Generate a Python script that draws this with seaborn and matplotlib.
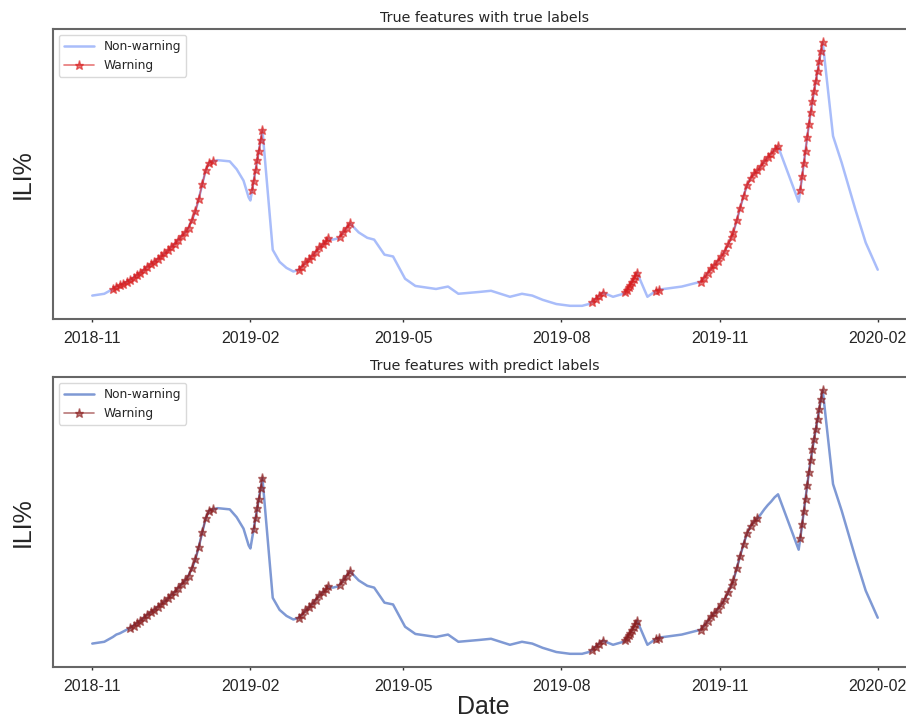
import numpy as np
import pandas as pd
import seaborn as sns
import matplotlib.pyplot as plt
import matplotlib.dates as mdates

# ILI% series (same true features in both panels)
dates = [
    "2018-11-01", "2018-11-08", "2018-11-13", "2018-11-15", "2018-11-17", "2018-11-19",
    "2018-11-21", "2018-11-23", "2018-11-25", "2018-11-27", "2018-11-29", "2018-12-01",
    "2018-12-03", "2018-12-05", "2018-12-07", "2018-12-09", "2018-12-11", "2018-12-13",
    "2018-12-15", "2018-12-17", "2018-12-19", "2018-12-21", "2018-12-23", "2018-12-25",
    "2018-12-27", "2018-12-29", "2018-12-31", "2019-01-02", "2019-01-04", "2019-01-06",
    "2019-01-08", "2019-01-10", "2019-01-13", "2019-01-20", "2019-01-24", "2019-01-28",
    "2019-01-31", "2019-02-01", "2019-02-02", "2019-02-03", "2019-02-04", "2019-02-05",
    "2019-02-06", "2019-02-07", "2019-02-08", "2019-02-14", "2019-02-18", "2019-02-22",
    "2019-02-26", "2019-03-01", "2019-03-03", "2019-03-05", "2019-03-07", "2019-03-09",
    "2019-03-11", "2019-03-13", "2019-03-15", "2019-03-17", "2019-03-18", "2019-03-21",
    "2019-03-24", "2019-03-25", "2019-03-27", "2019-03-29", "2019-03-31", "2019-04-05",
    "2019-04-10", "2019-04-14", "2019-04-20", "2019-04-25", "2019-05-02", "2019-05-08",
    "2019-05-20", "2019-05-27", "2019-06-02", "2019-06-14", "2019-06-21", "2019-07-02",
    "2019-07-09", "2019-07-15", "2019-07-21", "2019-07-29", "2019-08-06", "2019-08-13",
    "2019-08-17", "2019-08-19", "2019-08-21", "2019-08-23", "2019-08-25", "2019-08-31",
    "2019-09-06", "2019-09-07", "2019-09-08", "2019-09-09", "2019-09-10", "2019-09-11",
    "2019-09-12", "2019-09-13", "2019-09-14", "2019-09-20", "2019-09-25", "2019-09-27",
    "2019-10-05", "2019-10-10", "2019-10-17", "2019-10-21", "2019-10-23", "2019-10-25",
    "2019-10-27", "2019-10-29", "2019-10-31", "2019-11-02", "2019-11-04", "2019-11-06",
    "2019-11-08", "2019-11-09", "2019-11-11", "2019-11-13", "2019-11-15", "2019-11-17",
    "2019-11-19", "2019-11-21", "2019-11-23", "2019-11-25", "2019-11-27", "2019-11-29",
    "2019-12-01", "2019-12-03", "2019-12-05", "2019-12-17", "2019-12-18", "2019-12-19",
    "2019-12-20", "2019-12-21", "2019-12-22", "2019-12-23", "2019-12-24", "2019-12-25",
    "2019-12-26", "2019-12-27", "2019-12-28", "2019-12-29", "2019-12-30", "2019-12-31",
    "2020-01-06", "2020-01-11", "2020-01-19", "2020-01-25", "2020-02-01",
]
ili = [
    2.17, 2.20, 2.28, 2.32, 2.34, 2.37,
    2.40, 2.43, 2.47, 2.51, 2.55, 2.60,
    2.65, 2.69, 2.73, 2.78, 2.82, 2.87,
    2.92, 2.98, 3.03, 3.10, 3.16, 3.22,
    3.30, 3.42, 3.57, 3.78, 4.02, 4.25,
    4.38, 4.40, 4.42, 4.40, 4.27, 4.08,
    3.80, 3.75, 3.92, 4.08, 4.25, 4.42,
    4.58, 4.75, 4.92, 2.93, 2.73, 2.63,
    2.57, 2.60, 2.65, 2.72, 2.77, 2.83,
    2.90, 2.97, 3.02, 3.07, 3.12, 3.10,
    3.12, 3.15, 3.22, 3.30, 3.37, 3.22,
    3.13, 3.10, 2.85, 2.82, 2.45, 2.33,
    2.28, 2.32, 2.20, 2.23, 2.25, 2.15,
    2.20, 2.17, 2.10, 2.03, 2.00, 2.00,
    2.03, 2.07, 2.12, 2.17, 2.22, 2.15,
    2.20, 2.23, 2.27, 2.32, 2.35, 2.40,
    2.45, 2.50, 2.55, 2.15, 2.25, 2.27,
    2.30, 2.32, 2.37, 2.40, 2.47, 2.54,
    2.62, 2.68, 2.75, 2.82, 2.91, 3.02,
    3.15, 3.22, 3.42, 3.63, 3.83, 4.00,
    4.12, 4.20, 4.25, 4.32, 4.40, 4.47,
    4.53, 4.60, 4.65, 3.73, 3.93, 4.15,
    4.37, 4.58, 4.80, 5.02, 5.22, 5.40,
    5.57, 5.73, 5.90, 6.07, 6.23, 6.38,
    4.82, 4.38, 3.60, 3.05, 2.60,
]

# warning periods (start, end) for true and predicted labels
true_warnings = [
    ("2018-11-13", "2019-01-10"), ("2019-02-02", "2019-02-08"),
    ("2019-03-01", "2019-03-18"), ("2019-03-25", "2019-03-31"),
    ("2019-08-19", "2019-08-25"), ("2019-09-07", "2019-09-14"),
    ("2019-09-25", "2019-09-27"), ("2019-10-21", "2019-12-05"),
    ("2019-12-18", "2019-12-31"),
]
pred_warnings = [
    ("2018-11-22", "2019-01-10"), ("2019-02-03", "2019-02-08"),
    ("2019-03-01", "2019-03-18"), ("2019-03-25", "2019-03-31"),
    ("2019-08-19", "2019-08-25"), ("2019-09-07", "2019-09-14"),
    ("2019-09-25", "2019-09-27"), ("2019-10-21", "2019-11-23"),
    ("2019-12-18", "2019-12-31"),
]

df = pd.DataFrame({"date": pd.to_datetime(dates), "ili": ili})


def warning_values(periods):
    mask = np.zeros(len(df), dtype=bool)
    for start, end in periods:
        mask |= (df["date"] >= start) & (df["date"] <= end)
    return df["ili"].where(mask)


sns.set_theme(style="white")
plt.rcParams["font.family"] = ["DejaVu Sans"]

fig = plt.figure(figsize=(9.06, 7.19), dpi=100)
W, H = 906, 719
panels = [
    # title, warning periods, line colour, warning colour, axes top px
    ("True features with true labels", true_warnings, "#a9bdfa", "#d81e1e", 29),
    ("True features with predict labels", pred_warnings, "#7f99d4", "#8b1f1f", 377),
]

for i, (title, periods, line_c, warn_c, top) in enumerate(panels):
    ax = fig.add_axes([53 / W, 1 - (top + 290) / H, 864 / W, 290 / H])
    sns.lineplot(data=df, x="date", y="ili", ax=ax, color=line_c,
                 linewidth=1.8, label="Non-warning")
    ax.plot(df["date"], warning_values(periods), color=warn_c, marker="*",
            markersize=6.5, linewidth=1.2, alpha=0.6, label="Warning")

    ax.set_title(title, fontsize=10.3, pad=5)
    ax.set_yticks([])
    ax.set_ylabel("ILI%", fontsize=18, family="Liberation Sans")
    ax.yaxis.set_label_coords(-0.021, 0.5)
    if i == 1:
        ax.set_xlabel("Date", fontsize=18, family="Liberation Sans")
        ax.xaxis.set_label_coords(0.498, -0.098)
    else:
        ax.set_xlabel("")

    ax.xaxis.set_major_locator(mdates.MonthLocator(bymonth=[2, 5, 8, 11]))
    ax.xaxis.set_major_formatter(mdates.DateFormatter("%Y-%m"))
    ax.tick_params(axis="x", bottom=True, length=2.5, width=1, color="#333333",
                   labelsize=11.5, pad=6)
    for lab in ax.get_xticklabels():
        lab.set_family("Liberation Sans")
    for sp in ax.spines.values():
        sp.set_color("#666666")
        sp.set_linewidth(1.5)

    ax.legend(loc="upper left", fontsize=8.7, frameon=True, edgecolor="#d0d0d0",
              handlelength=2.5, borderaxespad=0.5)

fig.savefig("out.png", dpi=100)
